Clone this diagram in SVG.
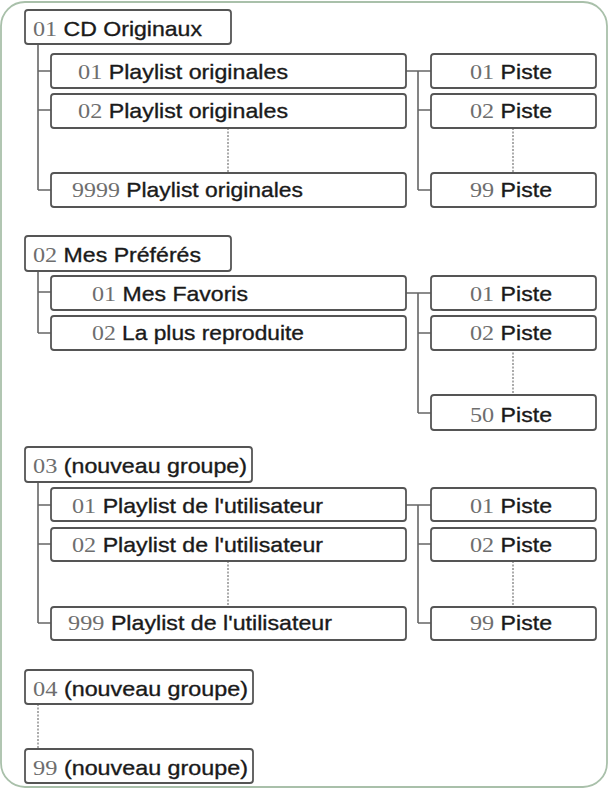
<svg xmlns="http://www.w3.org/2000/svg" width="609" height="789" viewBox="0 0 609 789">
<style>
.frame{fill:#fff;stroke:#a9c0aa;stroke-width:1.8}
.box{fill:#fff;stroke:#555;stroke-width:1.8}
.lbl{font-size:21px;font-family:"Liberation Sans",Arial,sans-serif;fill:#1a1a1a;stroke:#1a1a1a;stroke-width:0.35}
.num{font-family:"Liberation Serif","Times New Roman",serif;fill:#6e6e6e;stroke:none;font-size:22px}
.ln{fill:none;stroke:#666;stroke-width:1.6}
.dot{fill:none;stroke:#888;stroke-width:1.4;stroke-dasharray:2 1.5}
</style>
<rect class="frame" x="1" y="2" width="606" height="785" rx="24"/>
<g id="connectors">
<path class="ln" d="M38 44V190M38 71H52M38 110H52M38 190H52"/>
<path class="ln" d="M406 71H431M418 71V190M418 110H431M418 190H431"/>
<path class="dot" d="M228 128V173M513 128V173"/>
<path class="ln" d="M38 271V333M38 292H52M38 333H52"/>
<path class="ln" d="M406 293H431M418 293V413M418 333H431M418 413H431"/>
<path class="dot" d="M513 349V395"/>
<path class="ln" d="M38 482V623M38 505H52M38 544H52M38 623H52"/>
<path class="ln" d="M406 505H431M418 505V623M418 544H431M418 623H431"/>
<path class="dot" d="M228 561V607M513 561V607"/>
<path class="dot" d="M38 704V749"/>
</g>
<g id="g01"><rect class="box" x="25" y="10" width="206" height="34" rx="3"/><text class="lbl" x="33" y="36" textLength="169" lengthAdjust="spacingAndGlyphs"><tspan class="num">01</tspan> CD Originaux</text></g>
<g id="p01a"><rect class="box" x="51" y="54" width="355" height="34" rx="3"/><text class="lbl" x="78" y="79" textLength="210" lengthAdjust="spacingAndGlyphs"><tspan class="num">01</tspan> Playlist originales</text></g>
<g id="p01b"><rect class="box" x="51" y="94" width="355" height="34" rx="3"/><text class="lbl" x="78" y="118" textLength="210" lengthAdjust="spacingAndGlyphs"><tspan class="num">02</tspan> Playlist originales</text></g>
<g id="p01c"><rect class="box" x="51" y="173" width="355" height="34" rx="3"/><text class="lbl" x="72" y="197" textLength="231" lengthAdjust="spacingAndGlyphs"><tspan class="num">9999</tspan> Playlist originales</text></g>
<g id="t01a"><rect class="box" x="431" y="54" width="165" height="34" rx="3"/><text class="lbl" x="470" y="79" textLength="82" lengthAdjust="spacingAndGlyphs"><tspan class="num">01</tspan> Piste</text></g>
<g id="t01b"><rect class="box" x="431" y="94" width="165" height="34" rx="3"/><text class="lbl" x="470" y="118" textLength="82" lengthAdjust="spacingAndGlyphs"><tspan class="num">02</tspan> Piste</text></g>
<g id="t01c"><rect class="box" x="431" y="173" width="165" height="34" rx="3"/><text class="lbl" x="470" y="197" textLength="82" lengthAdjust="spacingAndGlyphs"><tspan class="num">99</tspan> Piste</text></g>

<g id="g02"><rect class="box" x="25" y="236" width="206" height="35" rx="3"/><text class="lbl" x="33" y="262" textLength="168" lengthAdjust="spacingAndGlyphs"><tspan class="num">02</tspan> Mes Préférés</text></g>
<g id="p02a"><rect class="box" x="51" y="276" width="355" height="34" rx="3"/><text class="lbl" x="92" y="301" textLength="156" lengthAdjust="spacingAndGlyphs"><tspan class="num">01</tspan> Mes Favoris</text></g>
<g id="p02b"><rect class="box" x="51" y="316" width="355" height="34" rx="3"/><text class="lbl" x="92" y="340" textLength="212" lengthAdjust="spacingAndGlyphs"><tspan class="num">02</tspan> La plus reproduite</text></g>
<g id="t02a"><rect class="box" x="431" y="276" width="165" height="34" rx="3"/><text class="lbl" x="470" y="301" textLength="82" lengthAdjust="spacingAndGlyphs"><tspan class="num">01</tspan> Piste</text></g>
<g id="t02b"><rect class="box" x="431" y="316" width="165" height="34" rx="3"/><text class="lbl" x="470" y="340" textLength="82" lengthAdjust="spacingAndGlyphs"><tspan class="num">02</tspan> Piste</text></g>
<g id="t02c"><rect class="box" x="431" y="395" width="165" height="35" rx="3"/><text class="lbl" x="470" y="422" textLength="82" lengthAdjust="spacingAndGlyphs"><tspan class="num">50</tspan> Piste</text></g>

<g id="g03"><rect class="box" x="25" y="447" width="227" height="35" rx="3"/><text class="lbl" x="33" y="473" textLength="214" lengthAdjust="spacingAndGlyphs"><tspan class="num">03</tspan> (nouveau groupe)</text></g>
<g id="p03a"><rect class="box" x="51" y="488" width="355" height="33" rx="3"/><text class="lbl" x="72" y="513" textLength="251" lengthAdjust="spacingAndGlyphs"><tspan class="num">01</tspan> Playlist de l'utilisateur</text></g>
<g id="p03b"><rect class="box" x="51" y="528" width="355" height="33" rx="3"/><text class="lbl" x="72" y="552" textLength="251" lengthAdjust="spacingAndGlyphs"><tspan class="num">02</tspan> Playlist de l'utilisateur</text></g>
<g id="p03c"><rect class="box" x="51" y="607" width="355" height="33" rx="3"/><text class="lbl" x="68" y="630" textLength="264" lengthAdjust="spacingAndGlyphs"><tspan class="num">999</tspan> Playlist de l'utilisateur</text></g>
<g id="t03a"><rect class="box" x="431" y="488" width="165" height="33" rx="3"/><text class="lbl" x="470" y="513" textLength="82" lengthAdjust="spacingAndGlyphs"><tspan class="num">01</tspan> Piste</text></g>
<g id="t03b"><rect class="box" x="431" y="528" width="165" height="33" rx="3"/><text class="lbl" x="470" y="552" textLength="82" lengthAdjust="spacingAndGlyphs"><tspan class="num">02</tspan> Piste</text></g>
<g id="t03c"><rect class="box" x="431" y="607" width="165" height="33" rx="3"/><text class="lbl" x="470" y="630" textLength="82" lengthAdjust="spacingAndGlyphs"><tspan class="num">99</tspan> Piste</text></g>

<g id="g04"><rect class="box" x="25" y="670" width="228" height="34" rx="3"/><text class="lbl" x="33" y="696" textLength="215" lengthAdjust="spacingAndGlyphs"><tspan class="num">04</tspan> (nouveau groupe)</text></g>
<g id="g99"><rect class="box" x="25" y="749" width="228" height="34" rx="3"/><text class="lbl" x="33" y="775" textLength="215" lengthAdjust="spacingAndGlyphs"><tspan class="num">99</tspan> (nouveau groupe)</text></g>
</svg>
